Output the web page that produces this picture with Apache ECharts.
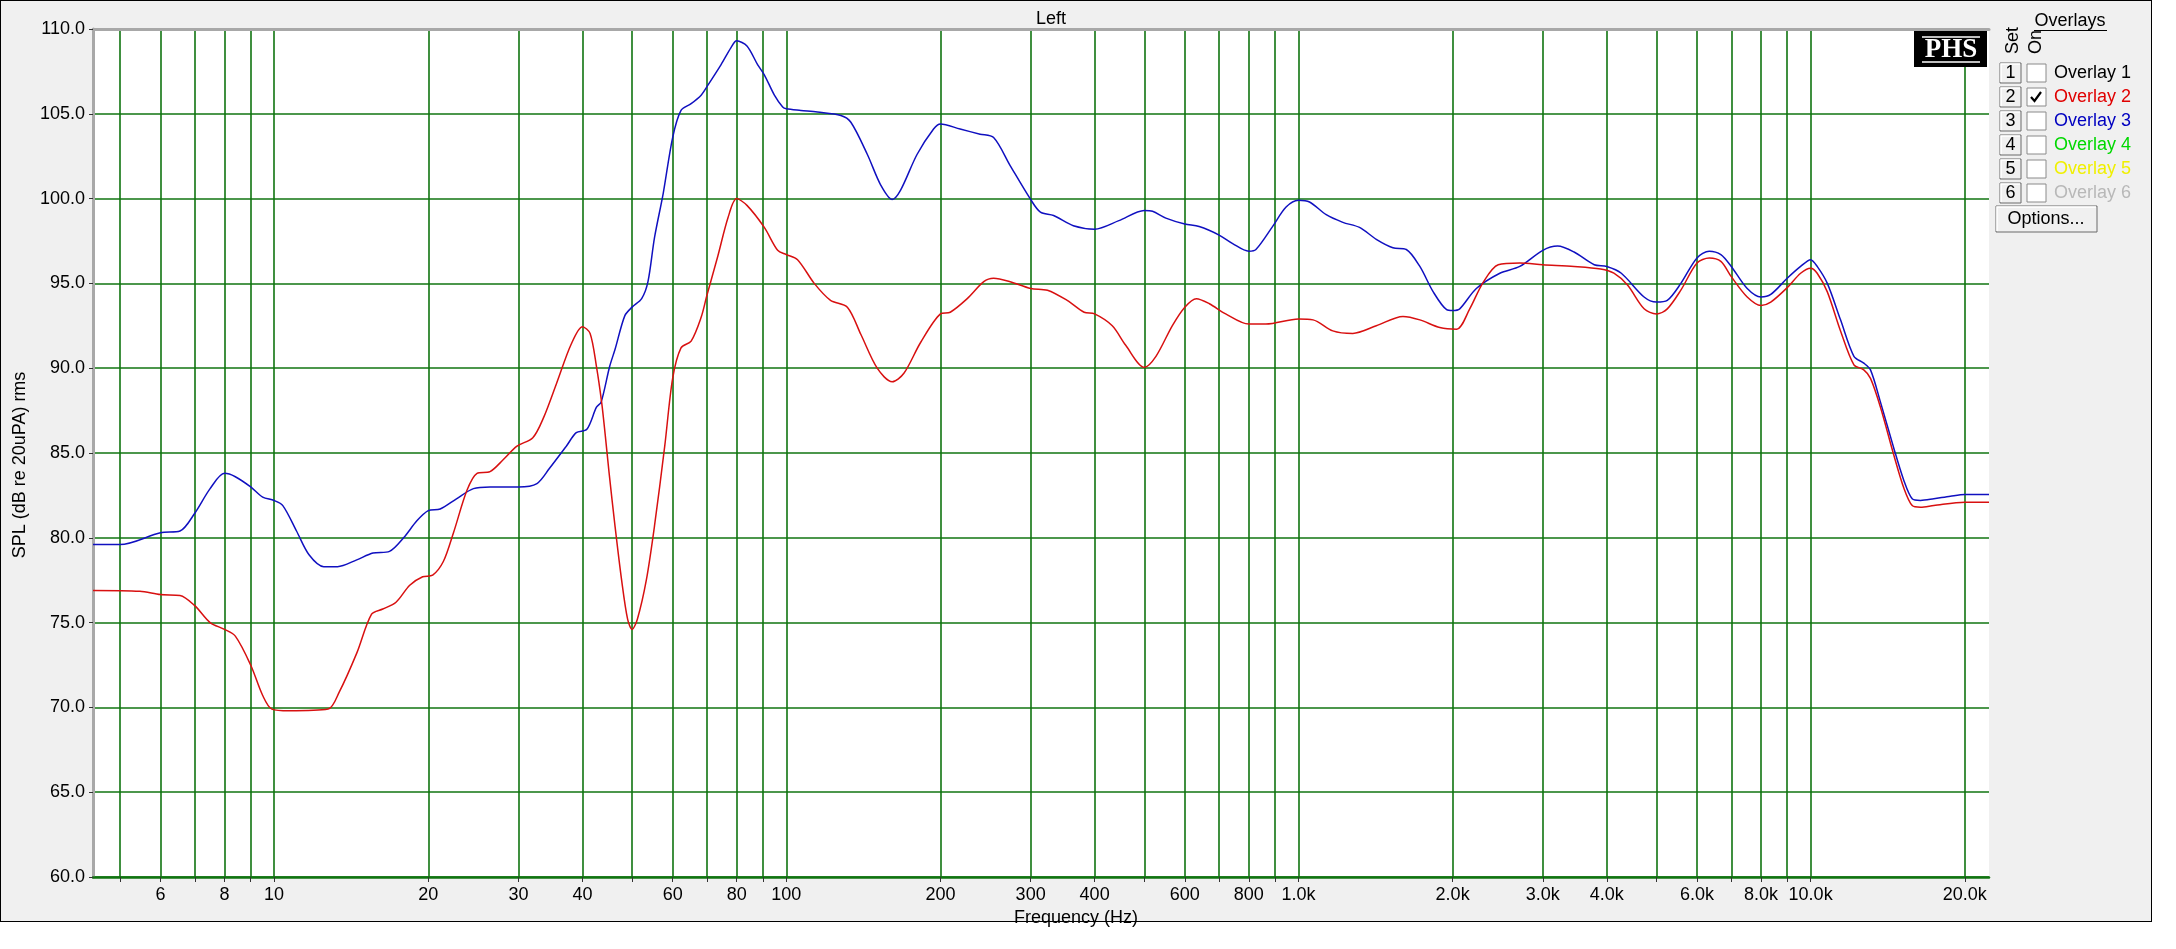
<!DOCTYPE html>
<html lang="en">
<head>
<meta charset="utf-8">
<title>Left</title>
<script src="https://cdn.jsdelivr.net/npm/echarts@6/dist/echarts.min.js"></script>
<style>
    body { margin: 0; background: #fff; }
    #wrap { position: relative; width: 2176px; height: 949px; }
    #frame { position: absolute; left: 0; top: 0; width: 2150px; height: 920px; background: #f0f0f0; border: 1px solid #000; }
    #main { position: absolute; left: 0; top: 0; width: 2176px; height: 949px; }
</style>
</head>
<body>
<div id="wrap">
    <div id="frame"></div>
    <div id="main"></div>
</div>
<script type="text/javascript">
    // frequency range of the plot (Hz)
    var xMin = 4.43, xMax = 22300;

    // grid lines and labelled frequencies
    var gridFreqs = [5, 6, 7, 8, 9, 10, 20, 30, 40, 50, 60, 70, 80, 90, 100,
        200, 300, 400, 500, 600, 700, 800, 900, 1000,
        2000, 3000, 4000, 5000, 6000, 7000, 8000, 9000, 10000, 20000];
    var labelFreqs = [6, 8, 10, 20, 30, 40, 60, 80, 100, 200, 300, 400, 600, 800,
        1000, 2000, 3000, 4000, 6000, 8000, 10000, 20000];

    // current measurement (blue)
    var blueFreq = [4.43, 5, 6, 6.55, 7, 7.5, 8, 8.4, 9, 9.5, 10, 10.4, 11.06, 11.7, 12.5, 13.3, 14.5, 15.6, 16.8, 17.9,
        19, 20, 21.1, 22.7, 24.5, 26.4, 30, 32.6, 34.5, 37.2, 38.9, 40.8, 42.6, 43.5, 45.2, 46.3, 48.4, 50, 52.2, 53.7,
        55.3, 57.5, 60, 62.3, 65.2, 68.2, 70, 74.6, 78, 80, 83.8, 87.9, 90.6, 94.8, 98.4, 100, 106.8, 115, 127.8, 133.7,
        144, 152.9, 161, 167.2, 180, 193.9, 200, 218.5, 239, 254, 273.6, 300, 313.5, 332.6, 363.5, 400, 446, 500, 519, 551,
        600, 640, 700, 744, 800, 826, 890, 946, 1000, 1051, 1133, 1221, 1316, 1419, 1529, 1624, 1726, 1833, 1947, 2000,
        2065, 2225, 2473, 2705, 3000, 3206, 3453, 3780, 4000, 4270, 4730, 5000, 5250, 5580, 6000, 6340, 6680, 7000, 7520, 8000,
        8360, 9000, 9560, 10000, 10300, 10780, 11440, 12150, 12700, 13090, 13690, 14530, 15200, 15790, 16390, 17400, 18750, 20000, 22300];
    var blueDb = [79.6, 79.6, 80.3, 80.4, 81.45, 82.9, 83.8, 83.6, 83.0, 82.4, 82.2, 81.9, 80.4, 79.0, 78.3, 78.3, 78.7, 79.1, 79.2, 80.0,
        81.0, 81.6, 81.7, 82.3, 82.9, 83.0, 83.0, 83.2, 84.1, 85.4, 86.2, 86.4, 87.7, 88.0, 90.1, 91.1, 93.1, 93.6, 94.1, 95.1,
        97.7, 100.3, 103.6, 105.2, 105.6, 106.1, 106.6, 107.9, 108.9, 109.3, 109.0, 107.9, 107.3, 106.1, 105.4, 105.3, 105.2, 105.1, 104.9, 104.5,
        102.6, 100.8, 99.95, 100.5, 102.6, 104.1, 104.4, 104.1, 103.8, 103.6, 101.95, 99.95, 99.2, 99.0, 98.4, 98.2, 98.7, 99.3, 99.25, 98.85,
        98.5, 98.35, 97.85, 97.35, 96.9, 97.0, 98.35, 99.5, 99.9, 99.8, 99.05, 98.6, 98.3, 97.6, 97.1, 97.0, 96.0, 94.5, 93.45, 93.4,
        93.5, 94.7, 95.6, 96.0, 96.95, 97.2, 96.85, 96.1, 96.0, 95.6, 94.2, 93.9, 94.0, 95.0, 96.5, 96.9, 96.7, 96.0, 94.7, 94.2,
        94.35, 95.3, 96.0, 96.4, 96.0, 95.0, 92.85, 90.7, 90.3, 89.9, 88.0, 85.3, 83.4, 82.3, 82.2, 82.3, 82.45, 82.55, 82.55];

    // overlay 2 (red)
    var redFreq = [4.43, 5.47, 6, 6.55, 7, 7.5, 8, 8.4, 9, 9.5, 9.9, 10.7, 12.75, 13.4, 14.5, 15.5, 16.3, 17.3, 18.4, 19.5,
        20.4, 21.4, 22.4, 23.8, 24.9, 26.4, 28, 29.8, 32, 33.6, 35.6, 38, 40, 41.4, 42.6, 43.6, 44.3, 45.1, 46.3, 47.7,
        49, 50, 51.2, 53.3, 55.3, 57.9, 60, 62.3, 65.2, 68.2, 70, 73.5, 77, 80, 83.8, 90.6, 96.2, 100, 105.2, 113.4,
        122, 131.6, 139.8, 150.5, 161, 169.7, 182.8, 200, 209, 225.6, 243, 254, 273.6, 300, 323.6, 353.5, 381.6, 400, 433, 460,
        500, 527, 567, 600, 632, 670, 721, 800, 864, 1000, 1068, 1167, 1277, 1419, 1600, 1726, 1888, 2036, 2160, 2293,
        2455, 2705, 3000, 3453, 3890, 4130, 4390, 4730, 5000, 5250, 5580, 6000, 6340, 6680, 7000, 7520, 8000, 8360, 9000, 9560,
        10000, 10300, 10780, 11440, 12150, 12700, 13090, 13690, 14530, 15200, 15790, 16390, 17400, 20000, 22300];
    var redDb = [76.9, 76.85, 76.65, 76.6, 76.0, 75.0, 74.6, 74.2, 72.5, 70.7, 69.9, 69.8, 69.9, 70.9, 73.2, 75.5, 75.8, 76.2, 77.2, 77.7,
        77.8, 78.6, 80.3, 82.8, 83.8, 83.9, 84.6, 85.4, 85.9, 87.1, 89.1, 91.4, 92.45, 92.05, 90.1, 88.0, 86.1, 83.8, 80.7, 77.5,
        75.2, 74.6, 75.2, 77.5, 80.7, 85.4, 89.4, 91.2, 91.6, 93.0, 94.3, 96.6, 98.9, 100.0, 99.6, 98.3, 96.95, 96.7, 96.4, 95.0,
        94.0, 93.6, 92.0, 90.0, 89.2, 89.7, 91.5, 93.2, 93.3, 94.1, 95.1, 95.3, 95.1, 94.7, 94.6, 94.0, 93.3, 93.2, 92.5, 91.35,
        90.05, 90.7, 92.5, 93.6, 94.1, 93.8, 93.2, 92.6, 92.6, 92.9, 92.85, 92.2, 92.05, 92.5, 93.05, 92.85, 92.4, 92.3, 93.5, 95.05,
        96.1, 96.2, 96.1, 96.0, 95.85, 95.6, 94.9, 93.5, 93.2, 93.5, 94.6, 96.2, 96.5, 96.3, 95.4, 94.2, 93.7, 93.9, 94.75, 95.6,
        95.9, 95.6, 94.5, 92.2, 90.2, 89.9, 89.4, 87.7, 84.9, 82.95, 81.9, 81.8, 81.9, 82.1, 82.1];

    // y axis
    var yMin = 60, yMax = 110, yStep = 5;

    // overlay panel
    var overlayNames = ['Overlay 1', 'Overlay 2', 'Overlay 3', 'Overlay 4', 'Overlay 5', 'Overlay 6'];
    var overlayOn = [false, true, false, false, false, false];
    var overlayColors = ['#000000', '#e00000', '#0000c0', '#00d800', '#f0f000', '#b8b8b8'];

    var FONT = '"Liberation Sans", Arial, sans-serif';
    var GRID_GREEN = '#107410';

    function lg(v) { return Math.log10(v); }
    function fmtFreq(v) {
        var f = Math.round(Math.pow(10, v));
        return f >= 1000 ? (f / 1000).toFixed(1) + 'k' : String(f);
    }

    var myChart = echarts.init(document.getElementById('main'), null, { renderer: 'canvas' });

    // panel on the right
    var graphics = [];
    graphics.push({ type: 'text', x: 2070, y: 21, style: { text: 'Overlays', font: '18px ' + FONT, fill: '#000', align: 'center', verticalAlign: 'middle' } });
    graphics.push({ type: 'line', shape: { x1: 2034, y1: 30.5, x2: 2107, y2: 30.5 }, style: { stroke: '#000', lineWidth: 1 } });
    graphics.push({ type: 'text', x: 2013, y: 54, rotation: Math.PI / 2, style: { text: 'Set', font: '18px ' + FONT, fill: '#000', align: 'left', verticalAlign: 'middle' } });
    graphics.push({ type: 'text', x: 2036, y: 54, rotation: Math.PI / 2, style: { text: 'On', font: '18px ' + FONT, fill: '#000', align: 'left', verticalAlign: 'middle' } });
    overlayNames.forEach(function (name, i) {
        var cy = 73 + i * 24;
        // numbered button
        graphics.push({ type: 'rect', shape: { x: 2000, y: cy - 10, width: 21, height: 20 }, style: { fill: '#f0f0f0', stroke: '#6a6a6a', lineWidth: 1 } });
        graphics.push({ type: 'polyline', shape: { points: [[2001, cy + 9], [2001, cy - 9], [2020, cy - 9]] }, style: { stroke: '#fff', lineWidth: 1.5, fill: null } });
        graphics.push({ type: 'text', x: 2010.5, y: cy, style: { text: String(i + 1), font: '18px ' + FONT, fill: '#000', align: 'center', verticalAlign: 'middle' } });
        // checkbox
        graphics.push({ type: 'rect', shape: { x: 2027, y: cy - 9, width: 19, height: 18 }, style: { fill: '#fff', stroke: '#8a8a8a', lineWidth: 1 } });
        if (overlayOn[i]) {
            graphics.push({ type: 'polyline', shape: { points: [[2031, cy], [2034.5, cy + 4], [2041, cy - 5]] }, style: { stroke: '#000', lineWidth: 2.2, fill: null } });
        }
        graphics.push({ type: 'text', x: 2054, y: cy, style: { text: name, font: '18px ' + FONT, fill: overlayColors[i], align: 'left', verticalAlign: 'middle' } });
    });
    graphics.push({ type: 'rect', shape: { x: 1996, y: 206, width: 101, height: 26 }, style: { fill: '#f0f0f0', stroke: '#6a6a6a', lineWidth: 1 } });
    graphics.push({ type: 'polyline', shape: { points: [[1997, 231], [1997, 207], [2096, 207]] }, style: { stroke: '#fff', lineWidth: 1.5, fill: null } });
    graphics.push({ type: 'text', x: 2046, y: 219, style: { text: 'Options...', font: '18px ' + FONT, fill: '#000', align: 'center', verticalAlign: 'middle' } });

    // PHS badge
    graphics.push({ type: 'rect', z: 10, shape: { x: 1914, y: 31, width: 73, height: 36 }, style: { fill: '#000' } });
    graphics.push({ type: 'text', z: 11, x: 1951, y: 50, style: { text: 'PHS', font: 'bold 27px "Liberation Serif", "DejaVu Serif", serif', fill: '#fff', align: 'center', verticalAlign: 'middle' } });
    graphics.push({ type: 'line', z: 11, shape: { x1: 1922, y1: 37, x2: 1980, y2: 37 }, style: { stroke: '#fff', lineWidth: 1.5 } });
    graphics.push({ type: 'line', z: 11, shape: { x1: 1922, y1: 62, x2: 1980, y2: 62 }, style: { stroke: '#fff', lineWidth: 1.5 } });

    var option = {
        backgroundColor: 'transparent',
        animation: false,
        title: {
            text: 'Left',
            left: 1046,
            top: 5,
            textAlign: 'center',
            textStyle: { color: '#000', fontSize: 18, fontWeight: 'normal', fontFamily: FONT }
        },
        grid: {
            left: 93,
            top: 29,
            width: 1896,
            height: 848,
            show: true,
            backgroundColor: '#fff',
            borderWidth: 0
        },
        xAxis: [{
            type: 'value',
            min: lg(xMin),
            max: lg(xMax),
            name: 'Frequency (Hz)',
            nameLocation: 'middle',
            nameGap: 25,
            nameTextStyle: { color: '#000', fontSize: 18, fontFamily: FONT, padding: [0, 0, 0, 70] },
            axisLine: { show: true, onZero: false, lineStyle: { color: GRID_GREEN, width: 2.5 } },
            axisTick: { show: true, customValues: gridFreqs.map(lg), length: 5, lineStyle: { color: '#333' } },
            axisLabel: {
                customValues: labelFreqs.map(lg),
                formatter: fmtFreq,
                color: '#000', fontSize: 18, fontFamily: FONT, margin: 9
            },
            splitLine: { show: true, lineStyle: { color: GRID_GREEN, width: 1.6 } }
        }, {
            type: 'value',
            position: 'top',
            min: lg(xMin),
            max: lg(xMax),
            axisLine: { show: true, onZero: false, lineStyle: { color: '#a8a8a8', width: 3 } },
            axisTick: { show: false },
            axisLabel: { show: false },
            splitLine: { show: false }
        }],
        yAxis: {
            type: 'value',
            min: yMin,
            max: yMax,
            interval: yStep,
            name: 'SPL (dB re 20uPA) rms',
            nameLocation: 'middle',
            nameGap: 64,
            nameRotate: 90,
            nameTextStyle: { color: '#000', fontSize: 18, fontFamily: FONT, padding: [0, 24, 0, 0] },
            axisLine: { show: true, onZero: false, lineStyle: { color: '#a8a8a8', width: 3 } },
            axisTick: { show: true, length: 4, lineStyle: { color: '#333' } },
            axisLabel: {
                formatter: function (v) { return v.toFixed(1); },
                color: '#000', fontSize: 18, fontFamily: FONT, margin: 8
            },
            splitLine: { show: true, lineStyle: { color: GRID_GREEN, width: 1.6 } }
        },
        series: [{
            name: 'Measurement',
            type: 'line',
            showSymbol: false,
            smooth: 0.3,
            lineStyle: { color: '#1010c0', width: 1.5 },
            data: blueFreq.map(function (f, i) { return [lg(f), blueDb[i]]; })
        }, {
            name: 'Overlay 2',
            type: 'line',
            showSymbol: false,
            smooth: 0.3,
            lineStyle: { color: '#d81010', width: 1.5 },
            data: redFreq.map(function (f, i) { return [lg(f), redDb[i]]; })
        }],
        graphic: graphics
    };
    myChart.setOption(option);
</script>
</body>
</html>
